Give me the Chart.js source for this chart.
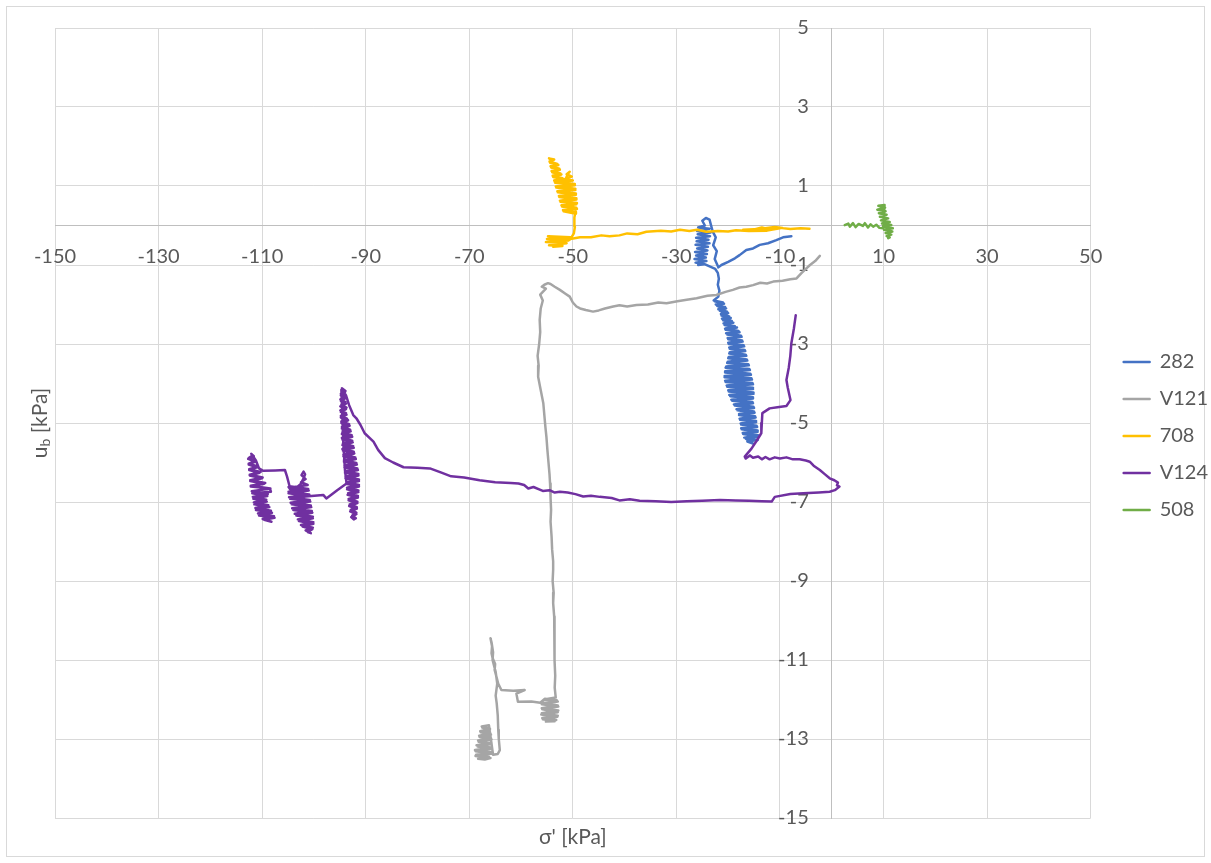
<!DOCTYPE html>
<html>
<head>
<meta charset="utf-8">
<script src="https://cdn.jsdelivr.net/npm/chart.js@4/dist/chart.umd.min.js"></script>
<style>
html,body{margin:0;padding:0;background:#ffffff;}
#wrap{width:1211px;height:863px;position:relative;}
canvas{display:block;}
</style>
</head>
<body>
<div id="wrap"><canvas id="c" width="1211" height="863"></canvas></div>
<script>
// ---------- data ----------
const seriesNames = ['282', 'V121', '708', 'V124', '508'];
const xTickValues = [-150, -130, -110, -90, -70, -50, -30, -10, 10, 30, 50];
const yTickValues = [-15, -13, -11, -9, -7, -5, -3, -1, 1, 3, 5];
const xTitle = "σ' [kPa]";
const yTitleMain = 'u';
const yTitleSub = 'b';
const yTitleRest = ' [kPa]';

const s282 = [
  [-7.8,-0.27],[-9.4,-0.30],[-10.7,-0.37],[-12.3,-0.45],[-13.9,-0.49],[-15.2,-0.58],[-16.5,-0.62],[-17.8,-0.75],
  [-18.7,-0.83],[-20.0,-0.92],[-21.3,-1.0],[-21.9,-1.06],[-22.6,-0.85],[-22.2,-0.65],[-22.9,-0.5],[-22.4,-0.3],
  [-23.0,-0.15],[-23.3,0.0],[-23.6,0.15],[-24.3,0.19],[-25.0,0.12],[-24.5,0.0],
  [-25.8,-0.05],[-23.6,-0.08],[-26.0,-0.14],[-23.4,-0.18],[-25.9,-0.22],[-23.5,-0.27],[-26.2,-0.31],[-23.8,-0.36],
  [-26.1,-0.40],[-23.6,-0.45],[-26.3,-0.49],[-23.9,-0.54],[-26.0,-0.58],[-24.0,-0.63],[-26.4,-0.67],[-24.1,-0.72],
  [-26.2,-0.76],[-24.3,-0.81],[-26.5,-0.85],[-24.2,-0.90],[-26.3,-0.94],[-24.6,-0.98],[-25.8,-1.0],[-25.0,-0.95],
  [-22.5,-1.1],[-22.0,-1.2],[-21.8,-1.35],[-22.0,-1.5],[-21.7,-1.65],[-21.9,-1.8],
  [-22.8,-1.90],[-21.0,-1.95],[-22.4,-2.00],[-20.6,-2.06],[-21.9,-2.12],[-20.2,-2.18],[-21.4,-2.24],[-19.8,-2.30],
  [-21.2,-2.36],[-19.3,-2.42],[-20.9,-2.48],[-18.7,-2.55],[-20.6,-2.61],[-18.0,-2.67],[-20.4,-2.73],[-17.5,-2.79],
  [-20.1,-2.85],[-17.3,-2.91],[-20.0,-2.97],[-17.0,-3.03],[-19.8,-3.09],[-16.8,-3.15],[-19.7,-3.21],[-16.6,-3.27],
  [-19.9,-3.33],[-16.4,-3.39],[-20.1,-3.45],[-16.1,-3.51],[-20.4,-3.57],[-15.9,-3.63],[-20.6,-3.69],[-15.7,-3.75],
  [-20.7,-3.81],[-15.5,-3.87],[-20.6,-3.93],[-15.3,-3.99],[-20.3,-4.05],[-15.2,-4.11],[-20.0,-4.17],[-15.1,-4.23],
  [-19.8,-4.29],[-15.2,-4.35],[-19.4,-4.41],[-15.3,-4.47],[-18.9,-4.53],[-15.1,-4.59],[-18.4,-4.65],[-15.0,-4.71],
  [-17.9,-4.77],[-14.8,-4.83],[-17.8,-4.89],[-14.6,-4.95],[-17.6,-5.01],[-14.5,-5.07],[-17.5,-5.13],[-14.3,-5.19],
  [-17.2,-5.25],[-14.2,-5.31],[-16.9,-5.37],[-14.3,-5.43],[-16.3,-5.47],[-15.2,-5.52],
  [-16.6,-5.40],[-14.2,-5.34],[-17.1,-5.28],[-14.3,-5.22],[-17.4,-5.16],[-14.4,-5.10],[-17.5,-5.04],[-14.6,-4.98],
  [-17.7,-4.92],[-14.7,-4.86],[-17.9,-4.80],[-14.9,-4.74],[-18.2,-4.68],[-15.0,-4.62],[-18.7,-4.56],[-15.2,-4.50],
  [-19.2,-4.44],[-15.2,-4.38],[-19.6,-4.32],[-15.1,-4.26],[-19.9,-4.20],[-15.2,-4.14],[-20.2,-4.08],[-15.2,-4.02],
  [-20.5,-3.96],[-15.4,-3.90],[-20.7,-3.84],[-15.6,-3.78],[-20.6,-3.72],[-15.8,-3.66],[-20.5,-3.60],[-16.0,-3.54],
  [-20.2,-3.48],[-16.3,-3.42],[-20.0,-3.36],[-16.5,-3.30],[-19.8,-3.24],[-16.7,-3.18],[-19.7,-3.12],[-16.9,-3.06],
  [-19.9,-3.00],[-17.2,-2.94],[-20.0,-2.88],[-17.4,-2.82],[-20.2,-2.76],[-17.8,-2.70],[-20.5,-2.64],[-18.3,-2.58],
  [-20.7,-2.52],[-19.0,-2.46],[-21.0,-2.40],[-19.5,-2.34],[-21.3,-2.28],[-20.0,-2.22],[-21.6,-2.16],[-20.4,-2.10],
  [-22.1,-2.04],[-20.8,-1.98],[-22.6,-1.92]
];

const sV121 = [
  [-2.3,-0.77],[-3.2,-0.9],[-4.2,-1.0],[-5.0,-1.1],[-5.9,-1.21],[-6.8,-1.34],[-8.0,-1.36],[-9.5,-1.40],[-11.3,-1.42],
  [-12.5,-1.47],[-13.8,-1.45],[-15.2,-1.51],[-16.5,-1.55],[-17.8,-1.57],[-19.1,-1.63],[-20.5,-1.68],[-22.3,-1.76],
  [-24.0,-1.78],[-26.1,-1.84],[-28.0,-1.88],[-29.8,-1.92],[-31.9,-1.97],[-33.5,-1.95],[-35.5,-2.0],[-37.7,-2.01],
  [-39.5,-2.05],[-41.0,-2.02],[-42.2,-2.05],[-43.8,-2.1],[-45.0,-2.15],[-46.1,-2.18],[-47.5,-2.14],[-48.6,-2.1],
  [-49.3,-2.05],[-50.0,-1.95],[-50.6,-1.80],[-51.5,-1.72],[-52.5,-1.63],[-53.5,-1.55],[-54.3,-1.48],[-54.8,-1.46],
  [-55.5,-1.5],[-56.0,-1.55],[-55.2,-1.60],[-56.3,-1.75],[-55.8,-1.9],
  [-56.2,-2.1],[-56.4,-2.39],[-56.3,-2.7],[-56.5,-3.0],[-56.8,-3.3],[-56.6,-3.55],[-56.7,-3.83],[-56.3,-4.1],
  [-55.7,-4.50],[-55.5,-4.8],[-55.3,-5.1],[-55.1,-5.35],[-54.9,-5.7],[-54.7,-6.0],[-54.5,-6.3],[-54.4,-6.53],
  [-54.3,-6.9],[-54.2,-7.2],[-54.3,-7.5],[-54.1,-7.88],[-54.0,-8.2],[-53.8,-8.5],[-53.8,-8.72],[-53.9,-9.0],
  [-53.7,-9.3],[-53.8,-9.56],[-53.6,-9.9],[-53.5,-10.24],[-53.6,-10.6],[-53.5,-11.0],[-53.4,-11.4],[-53.5,-11.7],
  [-53.3,-11.95],
  [-55.6,-12.0],[-52.9,-12.05],[-56.0,-12.12],[-52.8,-12.18],[-55.9,-12.25],[-52.9,-12.32],[-56.1,-12.38],
  [-53.0,-12.44],[-55.8,-12.50],[-53.5,-12.55],[-55.2,-12.56],
  [-53.2,-12.52],[-55.9,-12.47],[-52.9,-12.41],[-56.0,-12.35],[-52.8,-12.28],[-56.0,-12.22],[-52.9,-12.15],
  [-55.8,-12.09],[-53.1,-12.02],[-55.4,-11.98],
  [-56.3,-12.08],[-58.0,-12.05],[-60.6,-12.06],[-60.9,-11.85],[-59.3,-11.76],[-61.5,-11.78],[-63.8,-11.76],[-64.4,-11.6],
  [-64.8,-11.4],[-65.1,-11.25],[-65.0,-11.1],[-65.5,-10.95],[-65.7,-10.83],[-65.6,-10.65],[-65.9,-10.45],[-65.7,-10.55],
  [-65.4,-10.8],[-65.5,-11.0],[-64.9,-11.3],[-64.6,-11.6],[-64.9,-11.9],[-64.7,-12.1],[-64.5,-12.4],[-64.4,-12.77],
  [-64.3,-13.0],[-64.1,-13.28],[-64.5,-13.38],[-65.4,-13.4],
  [-66.2,-12.65],[-67.6,-12.68],[-66.0,-12.74],[-67.9,-12.8],[-65.9,-12.86],[-68.1,-12.92],[-65.8,-12.98],[-68.3,-13.04],
  [-65.7,-13.1],[-68.6,-13.16],[-65.6,-13.22],[-68.9,-13.28],[-65.5,-13.34],[-68.7,-13.40],[-66.2,-13.45],[-68.3,-13.5],
  [-67.0,-13.52],
  [-65.9,-13.48],[-68.8,-13.43],[-65.6,-13.37],[-68.8,-13.31],[-65.6,-13.25],[-68.4,-13.19],[-65.7,-13.13],[-68.2,-13.07],
  [-65.7,-13.01],[-68.0,-12.95],[-65.8,-12.89],[-67.8,-12.83],[-66.0,-12.77],[-67.5,-12.71],[-66.5,-12.66]
];

const s708 = [
  [-4.3,-0.08],[-6.0,-0.07],[-8.0,-0.09],[-10.0,-0.06],[-12.0,-0.10],[-13.5,-0.05],[-15.5,-0.12],[-17.1,-0.11],
  [-14.0,-0.09],[-11.0,-0.04],[-9.5,-0.06],[-12.5,-0.13],[-16.0,-0.14],[-18.5,-0.12],[-20.0,-0.15],[-22.0,-0.14],
  [-24.2,-0.16],[-26.0,-0.11],[-27.5,-0.14],[-29.3,-0.11],[-31.0,-0.15],[-33.0,-0.13],[-35.8,-0.16],[-37.5,-0.22],
  [-39.5,-0.2],[-41.0,-0.25],[-42.9,-0.27],[-44.5,-0.25],[-46.5,-0.3],[-48.6,-0.30],[-50.5,-0.34],[-52.0,-0.33],
  [-54.8,-0.27],[-50.5,-0.30],[-55.0,-0.34],[-50.8,-0.38],[-55.2,-0.42],[-51.2,-0.45],[-54.6,-0.50],[-52.0,-0.52],
  [-53.8,-0.54],[-50.5,-0.35],[-49.8,-0.2],[-49.6,-0.03],[-49.7,0.2],[-49.5,0.35],
  [-49.4,0.3],[-51.8,0.36],[-49.2,0.42],[-52.1,0.48],[-49.3,0.54],[-52.4,0.60],[-49.3,0.66],[-52.6,0.72],
  [-49.4,0.78],[-52.9,0.84],[-49.5,0.90],[-53.2,0.96],[-49.6,1.02],[-53.4,1.08],[-50.0,1.14],[-51.5,1.18],
  [-50.2,1.24],[-51.2,1.30],[-50.6,1.36],[-51.0,1.30],
  [-51.6,1.1],[-53.6,1.14],[-52.0,1.20],[-53.9,1.26],[-52.4,1.32],[-54.1,1.38],[-52.6,1.44],[-54.3,1.50],
  [-53.0,1.56],[-54.5,1.62],[-53.6,1.67],[-54.6,1.70],
  [-53.9,1.65],[-54.4,1.59],[-52.8,1.53],[-54.2,1.47],[-52.5,1.41],[-54.0,1.35],[-52.2,1.29],[-53.8,1.23],
  [-51.8,1.17],[-53.5,1.11],[-49.6,1.05],[-53.3,0.99],[-49.5,0.93],[-53.0,0.87],[-49.4,0.81],[-52.7,0.75],
  [-49.3,0.69],[-52.5,0.63],[-49.2,0.57],[-52.2,0.51],[-49.3,0.45],[-51.9,0.39],[-49.5,0.33]
];

const sV124 = [
  [-6.95,-2.27],[-7.3,-2.6],[-7.8,-2.98],[-8.0,-3.3],[-8.3,-3.6],[-8.75,-3.91],[-8.5,-4.1],[-7.97,-4.42],[-8.75,-4.57],
  [-10.5,-4.6],[-12.0,-4.63],[-13.4,-4.75],[-13.5,-5.0],[-13.6,-5.26],[-14.5,-5.45],[-15.5,-5.65],[-16.8,-5.85],
  [-16.6,-5.90],[-15.8,-5.82],[-15.2,-5.88],[-14.2,-5.85],[-13.5,-5.92],[-12.8,-5.86],[-12.0,-5.92],[-11.0,-5.87],
  [-10.0,-5.90],[-8.75,-5.87],[-7.5,-5.92],[-6.2,-5.92],[-5.0,-5.95],[-4.25,-5.98],[-3.5,-6.08],[-2.3,-6.19],
  [-1.3,-6.30],[-0.4,-6.40],[0.5,-6.45],[1.2,-6.51],[1.0,-6.58],[1.5,-6.61],[0.6,-6.70],[-0.4,-6.74],[-2.5,-6.76],
  [-5.5,-6.78],[-8.0,-6.80],[-11.0,-6.87],[-11.6,-6.99],[-13.5,-6.98],[-16.0,-6.97],[-18.5,-6.96],[-21.6,-6.95],
  [-25.0,-6.97],[-28.0,-6.98],[-31.0,-7.0],[-34.0,-6.98],[-37.1,-6.97],[-39.0,-6.93],[-41.0,-6.96],[-42.5,-6.90],
  [-44.8,-6.87],[-46.5,-6.84],[-48.0,-6.86],[-49.5,-6.80],[-51.0,-6.76],[-52.5,-6.74],[-53.5,-6.76],[-54.5,-6.70],
  [-55.8,-6.72],[-56.5,-6.68],[-57.6,-6.62],[-58.6,-6.66],[-59.4,-6.57],[-60.5,-6.53],[-62.0,-6.52],[-65.0,-6.50],
  [-68.0,-6.45],[-71.0,-6.38],[-73.5,-6.35],[-75.5,-6.25],[-77.6,-6.15],[-80.0,-6.13],[-82.7,-6.12],[-84.7,-6.0],
  [-86.3,-5.89],[-87.6,-5.68],[-88.5,-5.47],[-90.2,-5.26],[-91.0,-5.05],[-91.8,-4.88],[-92.4,-4.80],[-93.2,-4.55],
  [-93.8,-4.3],[-94.6,-4.12],
  [-93.9,-4.19],[-94.8,-4.26],[-93.8,-4.33],[-94.9,-4.40],[-93.9,-4.47],[-94.7,-4.54],[-93.7,-4.61],[-94.9,-4.68],
  [-93.8,-4.75],[-94.8,-4.82],[-93.6,-4.89],[-94.7,-4.96],[-93.2,-5.03],[-94.6,-5.10],[-93.0,-5.17],[-94.5,-5.24],
  [-92.7,-5.31],[-94.6,-5.38],[-92.6,-5.45],[-94.4,-5.52],[-92.4,-5.59],[-94.5,-5.66],[-92.3,-5.73],[-94.3,-5.80],
  [-92.0,-5.87],[-94.2,-5.94],[-91.8,-6.01],[-94.1,-6.08],[-91.6,-6.15],[-94.0,-6.22],[-91.4,-6.29],[-93.9,-6.36],
  [-91.3,-6.43],[-93.7,-6.50],[-91.3,-6.57],[-93.6,-6.64],[-91.4,-6.71],[-93.4,-6.78],[-91.5,-6.85],[-93.3,-6.92],
  [-91.6,-6.99],[-93.1,-7.06],[-91.7,-7.13],[-92.9,-7.20],[-91.8,-7.27],[-92.6,-7.34],[-91.9,-7.41],[-92.3,-7.44],
  [-92.8,-7.38],[-91.8,-7.31],[-93.0,-7.24],[-91.7,-7.17],[-93.2,-7.10],[-91.6,-7.03],[-93.3,-6.96],[-91.5,-6.89],
  [-93.5,-6.82],[-91.4,-6.75],[-93.6,-6.68],[-91.3,-6.61],[-93.8,-6.54],[-91.3,-6.47],[-93.9,-6.40],[-91.4,-6.33],
  [-94.0,-6.26],[-91.5,-6.19],[-94.1,-6.12],[-91.7,-6.05],[-94.2,-5.98],[-91.9,-5.91],[-94.3,-5.84],[-92.2,-5.77],
  [-94.4,-5.70],[-92.3,-5.63],[-94.5,-5.56],[-92.5,-5.49],[-94.5,-5.42],[-92.6,-5.35],[-94.6,-5.28],[-92.9,-5.21],
  [-94.6,-5.14],[-93.1,-5.07],[-94.7,-5.00],[-93.4,-4.93],[-94.8,-4.86],[-93.7,-4.79],[-94.8,-4.72],[-93.8,-4.65],
  [-94.9,-4.58],[-93.8,-4.51],[-94.8,-4.44],[-93.9,-4.37],[-94.8,-4.30],[-94.0,-4.23],[-94.7,-4.16],
  [-94.5,-4.9],[-94.3,-5.6],[-94.0,-6.2],[-93.7,-6.53],
  [-95.5,-6.7],[-97.6,-6.91],[-98.2,-6.82],[-100.5,-6.85],[-103.3,-6.88],
  [-104.2,-6.75],[-104.9,-6.62],[-103.8,-6.68],[-102.6,-6.55],[-102.0,-6.40],[-101.7,-6.30],[-102.0,-6.23],
  [-102.4,-6.32],[-101.6,-6.42],[-102.5,-6.50],
  [-101.2,-6.57],[-104.8,-6.64],[-101.0,-6.71],[-104.9,-6.78],[-100.9,-6.85],[-104.6,-6.92],[-100.7,-6.99],
  [-104.3,-7.06],[-100.5,-7.13],[-104.0,-7.20],[-100.3,-7.27],[-103.4,-7.34],[-100.2,-7.41],[-102.9,-7.48],
  [-100.1,-7.55],[-102.2,-7.62],[-100.3,-7.69],[-101.2,-7.76],[-100.6,-7.79],
  [-101.6,-7.72],[-100.2,-7.65],[-102.5,-7.58],[-100.1,-7.51],[-103.1,-7.44],[-100.2,-7.37],[-103.7,-7.30],
  [-100.4,-7.23],[-104.2,-7.16],[-100.6,-7.09],[-104.5,-7.02],[-100.8,-6.95],[-104.8,-6.88],[-100.9,-6.81],
  [-104.9,-6.74],[-101.1,-6.67],[-104.7,-6.60],
  [-105.2,-6.35],[-105.6,-6.19],[-107.5,-6.2],[-109.8,-6.21],[-110.6,-6.15],
  [-111.2,-5.95],[-112.1,-5.78],[-111.6,-5.84],[-112.7,-5.91],[-111.3,-5.98],[-112.6,-6.05],[-111.0,-6.12],
  [-112.5,-6.19],[-110.5,-6.26],[-112.4,-6.33],[-110.0,-6.40],[-112.3,-6.47],[-109.6,-6.54],[-112.2,-6.61],
  [-108.5,-6.66],[-108.3,-6.74],[-111.9,-6.78],[-109.0,-6.85],[-111.7,-6.92],[-109.1,-6.99],[-111.5,-7.06],
  [-108.6,-7.13],[-111.2,-7.20],[-108.1,-7.27],[-110.6,-7.34],[-107.6,-7.40],[-109.6,-7.45],[-108.2,-7.50],
  [-109.9,-7.43],[-107.7,-7.36],[-110.8,-7.29],[-108.3,-7.22],[-111.3,-7.15],[-108.8,-7.08],[-111.6,-7.01],
  [-109.2,-6.94],[-111.8,-6.87],[-108.9,-6.80],[-112.0,-6.73],[-108.4,-6.66],[-112.2,-6.59],[-109.4,-6.52],
  [-112.3,-6.45],[-109.9,-6.38],[-112.4,-6.31],[-110.3,-6.24],[-112.5,-6.17],[-110.8,-6.10],[-112.6,-6.03],
  [-111.2,-5.96],[-112.6,-5.89],[-111.8,-5.82]
];

const s508 = [
  [2.5,0.01],[3.2,0.05],[3.5,-0.03],[4.1,0.06],[4.6,-0.04],[5.2,0.04],[6.0,-0.01],[6.4,0.06],[7.0,-0.05],
  [7.5,0.03],[8.0,-0.03],[8.6,0.02],[9.2,-0.06],[9.9,-0.07],
  [10.2,0.52],[9.0,0.50],[10.3,0.45],[8.8,0.40],[10.4,0.36],[9.1,0.31],[10.6,0.27],[9.3,0.22],[10.9,0.18],
  [9.5,0.13],[11.2,0.09],[9.7,0.05],[11.5,0.01],[9.9,-0.03],[11.8,-0.07],[10.1,-0.11],[11.7,-0.15],[10.4,-0.19],
  [11.5,-0.23],[10.6,-0.27],[11.2,-0.30],[10.9,-0.32]
];

const seriesData = [s282, sV121, s708, sV124, s508];

// ---------- styles ----------
const seriesColors = ['#4472C4', '#A5A5A5', '#FFC000', '#7030A0', '#70AD47'];
const textColor = '#595959';
const FONT = 'Lato, Carlito, "Liberation Sans", sans-serif';

Chart.defaults.font.family = FONT;
Chart.defaults.color = textColor;

const frameAndTitles = {
  id: 'frameAndTitles',
  afterLayout(chart) {
    const lg = chart.legend;
    if (!lg) return;
    const pad = lg.options.labels.padding;
    const dx = (chart.chartArea.right + 33) - (lg.left + pad);
    const dy = 13;
    lg.left += dx; lg.right += dx;
    lg.top += dy; lg.bottom += dy;
  },
  beforeDraw(chart) {
    const ctx = chart.ctx;
    ctx.save();
    ctx.fillStyle = '#ffffff';
    ctx.fillRect(0, 0, chart.width, chart.height);
    ctx.strokeStyle = '#D9D9D9';
    ctx.lineWidth = 1;
    ctx.strokeRect(6.5, 6.5, chart.width - 13, chart.height - 13);
    ctx.restore();
    // y tick labels sit left of the vertical axis, with a gap
    const ys = chart.scales.y;
    const items = ys.getLabelItems(chart.chartArea);
    if (!items._shifted) {
      items.forEach(it => { it.options.translation[0] -= 23; });
      items._shifted = true;
    }
  },
  afterDraw(chart) {
    const ctx = chart.ctx;
    const ca = chart.chartArea;
    ctx.save();
    ctx.fillStyle = textColor;
    ctx.textBaseline = 'middle';
    ctx.textAlign = 'center';
    ctx.font = '21px ' + FONT;
    ctx.fillText(xTitle, (ca.left + ca.right) / 2, ca.bottom + 19);
    // y title, rotated, with subscript
    ctx.translate(40, (ca.top + ca.bottom) / 2);
    ctx.rotate(-Math.PI / 2);
    ctx.textAlign = 'left';
    ctx.font = '21px ' + FONT;
    const wU = ctx.measureText(yTitleMain).width;
    const wR = ctx.measureText(yTitleRest).width;
    ctx.font = '14px ' + FONT;
    const wB = ctx.measureText(yTitleSub).width;
    const total = wU + wB + wR;
    let x0 = -total / 2;
    ctx.font = '21px ' + FONT;
    ctx.fillText(yTitleMain, x0, 0);
    x0 += wU;
    ctx.font = '14px ' + FONT;
    ctx.fillText(yTitleSub, x0, 5);
    x0 += wB;
    ctx.font = '21px ' + FONT;
    ctx.fillText(yTitleRest, x0, 0);
    ctx.restore();
  }
};

const datasets = seriesNames.map((name, i) => ({
  label: name,
  data: seriesData[i].map(p => ({x: p[0], y: p[1]})),
  showLine: true,
  borderColor: seriesColors[i],
  backgroundColor: seriesColors[i],
  borderWidth: 2.5,
  borderJoinStyle: 'round',
  borderCapStyle: 'round',
  pointRadius: 0,
  pointHoverRadius: 0,
  tension: 0,
  fill: false,
  order: seriesNames.length - i
}));

new Chart(document.getElementById('c'), {
  type: 'scatter',
  data: { datasets },
  options: {
    responsive: false,
    animation: false,
    devicePixelRatio: 1,
    layout: { padding: { left: 55, top: 28, bottom: 45, right: 9 } },
    plugins: {
      legend: {
        position: 'right',
        align: 'center',
        labels: {
          boxWidth: 26,
          boxHeight: 0,
          padding: 17,
          color: textColor,
          font: { size: 20, family: FONT },
          sort: (a, b) => a.datasetIndex - b.datasetIndex
        }
      },
      tooltip: { enabled: false }
    },
    scales: {
      x: {
        type: 'linear',
        position: { y: 0 },
        min: xTickValues[0],
        max: xTickValues[xTickValues.length - 1],
        afterBuildTicks: s => { s.ticks = xTickValues.map(v => ({ value: v })); },
        grid: { color: '#D9D9D9', lineWidth: 1, drawTicks: false },
        border: { display: true, color: '#BFBFBF', width: 1 },
        ticks: { autoSkip: false, maxRotation: 0, padding: 19, color: textColor, font: { size: 20, family: FONT } }
      },
      y: {
        type: 'linear',
        position: { x: 0 },
        min: yTickValues[0],
        max: yTickValues[yTickValues.length - 1],
        afterBuildTicks: s => { s.ticks = yTickValues.map(v => ({ value: v })); },
        grid: { color: '#D9D9D9', lineWidth: 1, drawTicks: false },
        border: { display: true, color: '#BFBFBF', width: 1 },
        ticks: { autoSkip: false, padding: 0, color: textColor, font: { size: 20, family: FONT } }
      }
    }
  },
  plugins: [frameAndTitles]
});
</script>
</body>
</html>
